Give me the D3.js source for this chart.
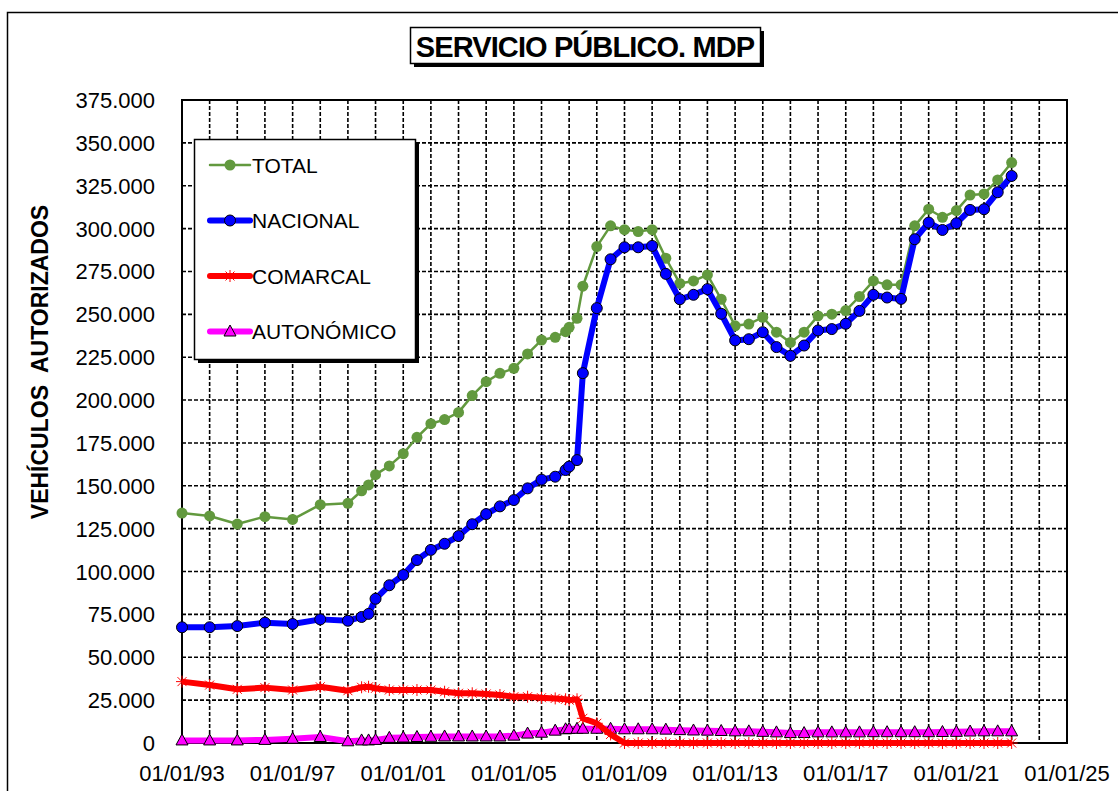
<!DOCTYPE html>
<html>
<head>
<meta charset="utf-8">
<script src="https://cdn.jsdelivr.net/npm/d3@7"></script>
<style>
body { margin: 0; background: #fff; }
svg { font-family: Arial, "Liberation Sans", sans-serif; }
</style>
</head>
<body>
<script>
// fechas de cada dato (anual hasta 1999, luego semestral)
var fechas = [
    "1993-01-01", "1994-01-01", "1995-01-01", "1996-01-01", "1997-01-01", "1998-01-01",
    "1999-01-01", "1999-07-01", "1999-10-01", "2000-01-01", "2000-07-01", "2001-01-01",
    "2001-07-01", "2002-01-01", "2002-07-01", "2003-01-01", "2003-07-01", "2004-01-01",
    "2004-07-01", "2005-01-01", "2005-07-01", "2006-01-01", "2006-07-01", "2006-11-15",
    "2007-01-01", "2007-04-15", "2007-07-01", "2008-01-01", "2008-07-01", "2009-01-01",
    "2009-07-01", "2010-01-01", "2010-07-01", "2011-01-01", "2011-07-01", "2012-01-01",
    "2012-07-01", "2013-01-01", "2013-07-01", "2014-01-01", "2014-07-01", "2015-01-01",
    "2015-07-01", "2016-01-01", "2016-07-01", "2017-01-01", "2017-07-01", "2018-01-01",
    "2018-07-01", "2019-01-01", "2019-07-01", "2020-01-01", "2020-07-01", "2021-01-01",
    "2021-07-01", "2022-01-01", "2022-07-01", "2023-01-01"
];

var total = [
    134100, 132400, 127700, 132000, 130400, 139000,
    139800, 147100, 150500, 156500, 161600, 168700,
    178300, 186200, 188600, 192800, 202600, 210700,
    215600, 218500, 226900, 235000, 236600, 239900,
    242400, 247700, 266400, 289500, 301600, 299400,
    298300, 299400, 282700, 268000, 269500, 273000,
    258800, 243300, 244300, 248300, 239600, 233600,
    239600, 249100, 250100, 252200, 260400, 269500,
    267200, 267200, 301600, 311300, 306600, 310500,
    319600, 320200, 328400, 338500
];

var nacional = [
    67500, 67500, 68200, 70200, 69400, 72100,
    71300, 73500, 75300, 84100, 92000, 98000,
    106700, 112600, 116200, 120700, 127600, 133500,
    138000, 141700, 148500, 153600, 155300, 159200,
    161200, 165000, 215700, 253600, 282100, 289100,
    289100, 289900, 273600, 258800, 261400, 264700,
    250300, 234800, 235500, 239600, 230900, 225800,
    231800, 240600, 241400, 244500, 252000, 261400,
    259800, 259000, 293800, 303500, 299200, 303100,
    310900, 311300, 321200, 330700
];

var comarcal = [
    35800, 33800, 31300, 32300, 30900, 32800,
    30500, 32500, 32800, 31900, 30900, 30900,
    30900, 30900, 29900, 29000, 29000, 28600,
    28000, 27000, 27000, 26400, 26000, 25500,
    25000, 25500, 14400, 11500, 5000, 0,
    0, 0, 0, 0, 0, 0,
    0, 0, 0, 0, 0, 0,
    0, 0, 0, 0, 0, 0,
    0, 0, 0, 0, 0, 0,
    0, 0, 0, 0
];

var autonomico = [
    1500, 1500, 1500, 1800, 2500, 3500,
    1000, 1500, 1500, 1800, 3000, 3200,
    3500, 3600, 3800, 3800, 3800, 3800,
    3800, 4300, 5500, 6000, 7200, 8000,
    8200, 8300, 8300, 8300, 8300, 8000,
    8000, 8000, 7800, 7500, 7300, 7200,
    7000, 6800, 6800, 6500, 6200, 5800,
    5800, 6200, 6200, 6200, 6200, 6300,
    6300, 6300, 6300, 6300, 6400, 6500,
    6700, 6800, 6800, 6800
];

var nombres = ["TOTAL", "NACIONAL", "COMARCAL", "AUTONÓMICO"];
var yTicks = d3.range(0, 375001, 25000);
var xLabelYears = [1993, 1997, 2001, 2005, 2009, 2013, 2017, 2021, 2025];

var w = 1118;
var h = 791;

var parse = d3.timeParse("%Y-%m-%d");
var dates = fechas.map(parse);

var svg = d3.select("body")
    .append("svg")
    .attr("width", w)
    .attr("height", h);

// marco exterior del grafico (cortado a la derecha y abajo)
svg.append("rect")
    .attr("x", 7.5)
    .attr("y", 12.5)
    .attr("width", 1200)
    .attr("height", 900)
    .attr("fill", "#fff")
    .attr("stroke", "#000")
    .attr("stroke-width", 1.5);

// area de trazado
var pL = 182, pR = 1067, pT = 100, pB = 743;

var xScale = d3.scaleTime()
    .domain([new Date(1993, 0, 1), new Date(2025, 0, 1)])
    .range([pL, pR]);

var yScale = d3.scaleLinear()
    .domain([0, 375000])
    .range([pB, pT]);

var es = d3.formatLocale({ decimal: ",", thousands: ".", grouping: [3], currency: ["", "€"] });
var fmt = es.format(",");

// rejilla discontinua
var years = d3.timeYear.range(new Date(1993, 0, 1), new Date(2025, 0, 2));
svg.append("g")
    .selectAll("line")
    .data(years)
    .enter()
    .append("line")
    .attr("x1", function(d) { return xScale(d); })
    .attr("x2", function(d) { return xScale(d); })
    .attr("y1", pT)
    .attr("y2", pB)
    .attr("stroke", "#000")
    .attr("stroke-width", 1.6)
    .attr("stroke-dasharray", "4,2");

svg.append("g")
    .selectAll("line")
    .data(yTicks)
    .enter()
    .append("line")
    .attr("x1", pL)
    .attr("x2", pR)
    .attr("y1", function(d) { return yScale(d); })
    .attr("y2", function(d) { return yScale(d); })
    .attr("stroke", "#000")
    .attr("stroke-width", 1.6)
    .attr("stroke-dasharray", "4,2");

svg.append("rect")
    .attr("x", pL)
    .attr("y", pT)
    .attr("width", pR - pL)
    .attr("height", pB - pT)
    .attr("fill", "none")
    .attr("stroke", "#000")
    .attr("stroke-width", 2);

// etiquetas de ejes
svg.append("g")
    .selectAll("text")
    .data(yTicks)
    .enter()
    .append("text")
    .attr("x", 155)
    .attr("y", function(d) { return yScale(d) + 8; })
    .attr("text-anchor", "end")
    .attr("font-size", 22)
    .text(function(d) { return fmt(d); });

var fmtX = d3.timeFormat("%d/%m/%y");
svg.append("g")
    .selectAll("text")
    .data(xLabelYears)
    .enter()
    .append("text")
    .attr("x", function(d) { return xScale(new Date(d, 0, 1)); })
    .attr("y", 781)
    .attr("text-anchor", "middle")
    .attr("font-size", 22)
    .text(function(d) { return fmtX(new Date(d, 0, 1)); });

svg.append("text")
    .attr("transform", "translate(48,362) rotate(-90)")
    .attr("text-anchor", "middle")
    .attr("font-size", 23)
    .attr("font-weight", "bold")
    .attr("xml:space", "preserve")
    .text("VEHÍCULOS  AUTORIZADOS");

// titulo con sombra
svg.append("rect")
    .attr("x", 414).attr("y", 31)
    .attr("width", 350).attr("height", 36)
    .attr("fill", "#000");
svg.append("rect")
    .attr("x", 410.5).attr("y", 27.5)
    .attr("width", 350).attr("height", 36)
    .attr("fill", "#fff")
    .attr("stroke", "#000")
    .attr("stroke-width", 1.5);
svg.append("text")
    .attr("x", 585)
    .attr("y", 56.5)
    .attr("text-anchor", "middle")
    .attr("font-size", 29)
    .attr("font-weight", "bold")
    .attr("letter-spacing", -0.9)
    .text("SERVICIO PÚBLICO. MDP");

// series
var series = [
    { name: nombres[0], values: total, color: "#62993e", width: 2.5, marker: "dot" },
    { name: nombres[1], values: nacional, color: "#0000ff", width: 6, marker: "circle" },
    { name: nombres[3], values: autonomico, color: "#ff00ff", width: 6, marker: "triangle" },
    { name: nombres[2], values: comarcal, color: "#ff0000", width: 6, marker: "star" }
];

var line = d3.line()
    .x(function(d) { return xScale(d.date); })
    .y(function(d) { return yScale(d.value); });

var asterisk = "M-6,0L6,0M0,-6L0,6M-4.5,-4.5L4.5,4.5M-4.5,4.5L4.5,-4.5";
var triangle = "M0,-6.5L6,4.5L-6,4.5Z";

function drawMarker(g, type, color) {
    if (type == "dot") {
        g.append("circle").attr("r", 5.5).attr("fill", color);
    } else if (type == "circle") {
        g.append("circle").attr("r", 5.5).attr("fill", color)
            .attr("stroke", "#000").attr("stroke-width", 1);
    } else if (type == "triangle") {
        g.append("path").attr("d", triangle).attr("fill", color)
            .attr("stroke", "#000").attr("stroke-width", 1);
    } else {
        g.append("path").attr("d", asterisk).attr("fill", "none")
            .attr("stroke", color).attr("stroke-width", 1);
    }
}

series.forEach(function(s) {
    var pts = dates.map(function(d, i) {
        return { date: d, value: s.values[i] };
    });
    svg.append("path")
        .datum(pts)
        .attr("d", line)
        .attr("fill", "none")
        .attr("stroke", s.color)
        .attr("stroke-width", s.width)
        .attr("stroke-linejoin", "round");
    svg.append("g")
        .selectAll("g")
        .data(pts)
        .enter()
        .append("g")
        .attr("transform", function(d) {
            return "translate(" + xScale(d.date) + "," + yScale(d.value) + ")";
        })
        .each(function() { drawMarker(d3.select(this), s.marker, s.color); });
});

// leyenda
var legendItems = [series[0], series[1], series[3], series[2]];
svg.append("rect")
    .attr("x", 198).attr("y", 143)
    .attr("width", 221).attr("height", 220)
    .attr("fill", "#000");
svg.append("rect")
    .attr("x", 194.5).attr("y", 139.5)
    .attr("width", 221).attr("height", 220)
    .attr("fill", "#fff")
    .attr("stroke", "#000")
    .attr("stroke-width", 1.5);

var leg = svg.append("g")
    .selectAll("g")
    .data(legendItems)
    .enter()
    .append("g")
    .attr("transform", function(d, i) { return "translate(0," + (165 + i * 55.5) + ")"; });

leg.append("line")
    .attr("x1", 210).attr("x2", 250)
    .attr("stroke", function(d) { return d.color; })
    .attr("stroke-width", function(d) { return d.width; })
    .attr("stroke-linecap", "round");
leg.append("g")
    .attr("transform", "translate(230,0)")
    .each(function(d) { drawMarker(d3.select(this), d.marker, d.color); });
leg.append("text")
    .attr("x", 252)
    .attr("y", 7.5)
    .attr("font-size", 21)
    .text(function(d) { return d.name; });
</script>
</body>
</html>
